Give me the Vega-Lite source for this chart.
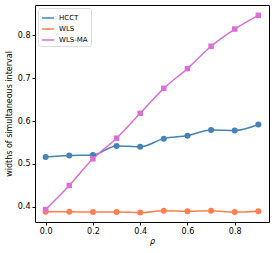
{
  "$schema": "https://vega.github.io/schema/vega-lite/v6.json",
  "width": 234,
  "height": 217,
  "autosize": {"type": "none"},
  "padding": {"left": 35, "top": 5, "right": 5, "bottom": 31},
  "background": "white",
  "config": {
    "font": "DejaVu Sans",
    "view": {"stroke": "#000", "strokeWidth": 1},
    "axis": {"grid": false, "domain": false, "tickColor": "#000", "tickSize": 3, "labelFontSize": 8, "labelColor": "#000", "titleFontSize": 8, "titleFontWeight": "normal", "titleColor": "#000", "labelFont": "DejaVu Sans", "titleFont": "DejaVu Sans"}
  },
  "data": {"values": [
    {"rho": 0.0, "method": "HCCT", "w": 0.516},
    {"rho": 0.1, "method": "HCCT", "w": 0.520},
    {"rho": 0.2, "method": "HCCT", "w": 0.521},
    {"rho": 0.3, "method": "HCCT", "w": 0.542},
    {"rho": 0.4, "method": "HCCT", "w": 0.540},
    {"rho": 0.5, "method": "HCCT", "w": 0.559},
    {"rho": 0.6, "method": "HCCT", "w": 0.566},
    {"rho": 0.7, "method": "HCCT", "w": 0.579},
    {"rho": 0.8, "method": "HCCT", "w": 0.578},
    {"rho": 0.9, "method": "HCCT", "w": 0.592},
    {"rho": 0.0, "method": "WLS", "w": 0.389},
    {"rho": 0.1, "method": "WLS", "w": 0.389},
    {"rho": 0.2, "method": "WLS", "w": 0.388},
    {"rho": 0.3, "method": "WLS", "w": 0.388},
    {"rho": 0.4, "method": "WLS", "w": 0.387},
    {"rho": 0.5, "method": "WLS", "w": 0.391},
    {"rho": 0.6, "method": "WLS", "w": 0.390},
    {"rho": 0.7, "method": "WLS", "w": 0.391},
    {"rho": 0.8, "method": "WLS", "w": 0.388},
    {"rho": 0.9, "method": "WLS", "w": 0.390},
    {"rho": 0.0, "method": "WLS-MA", "w": 0.394},
    {"rho": 0.1, "method": "WLS-MA", "w": 0.450},
    {"rho": 0.2, "method": "WLS-MA", "w": 0.512},
    {"rho": 0.3, "method": "WLS-MA", "w": 0.560},
    {"rho": 0.4, "method": "WLS-MA", "w": 0.618},
    {"rho": 0.5, "method": "WLS-MA", "w": 0.676},
    {"rho": 0.6, "method": "WLS-MA", "w": 0.722},
    {"rho": 0.7, "method": "WLS-MA", "w": 0.774},
    {"rho": 0.8, "method": "WLS-MA", "w": 0.814},
    {"rho": 0.9, "method": "WLS-MA", "w": 0.846}
  ]},
  "encoding": {
    "x": {"field": "rho", "type": "quantitative", "title": "ρ",
      "scale": {"domain": [-0.045, 0.945], "nice": false, "zero": false},
      "axis": {"values": [0, 0.2, 0.4, 0.6, 0.8], "format": ".1f", "titleFontStyle": "italic", "titlePadding": 2}},
    "y": {"field": "w", "type": "quantitative", "title": "widths of simultaneous interval",
      "scale": {"domain": [0.365, 0.87], "nice": false, "zero": false},
      "axis": {"values": [0.4, 0.5, 0.6, 0.7, 0.8], "format": ".1f", "titlePadding": 4}},
    "color": {"field": "method", "type": "nominal",
      "scale": {"domain": ["HCCT", "WLS", "WLS-MA"], "range": ["#4682b4", "#ff7f50", "#da70d6"]},
      "legend": {"title": null, "orient": "top-left", "offset": 3, "symbolType": "stroke", "symbolSize": 150, "symbolStrokeWidth": 1.5, "labelFontSize": 7, "labelColor": "#000", "rowPadding": 1, "padding": 3, "fillColor": "white", "strokeColor": "#ddd", "cornerRadius": 2}}
  },
  "layer": [
    {"mark": {"type": "line", "interpolate": "monotone", "strokeWidth": 1.5}, "encoding": {"order": {"field": "rho"}}},
    {"transform": [{"filter": "datum.method !== 'WLS-MA'"}],
     "mark": {"type": "point", "filled": true, "opacity": 1, "size": 36, "shape": "circle"}},
    {"transform": [{"filter": "datum.method === 'WLS-MA'"}],
     "mark": {"type": "point", "filled": true, "opacity": 1, "size": 30, "shape": "square"}}
  ]
}
